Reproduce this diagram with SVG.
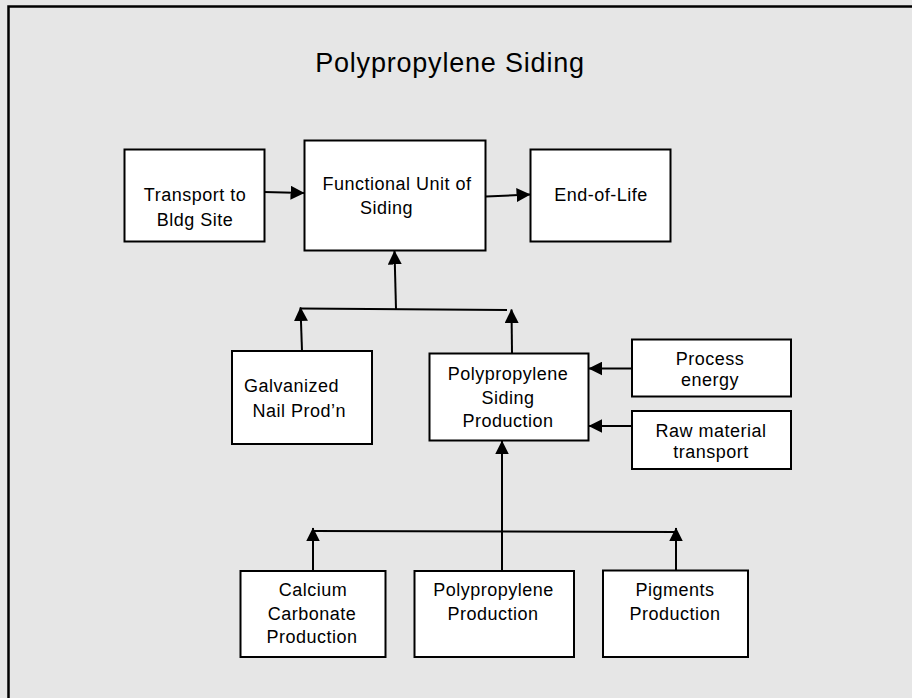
<svg xmlns="http://www.w3.org/2000/svg" width="912" height="698" viewBox="0 0 912 698">
<defs>
<style>
.box{fill:#ffffff;stroke:#000000;stroke-width:2}
.t{font-family:"Liberation Sans",Arial,sans-serif;font-size:18px;letter-spacing:0.5px;fill:#000000}
.m{text-anchor:middle}
.c{fill:none;stroke:#000000;stroke-width:2}
</style>
<marker id="ah" markerUnits="userSpaceOnUse" markerWidth="14" markerHeight="14" viewBox="0 0 13 13" refX="12.5" refY="6.5" orient="auto">
<path d="M0,0 L13,6.5 L0,13 z" fill="#000000"/>
</marker>
</defs>
<rect x="0" y="0" width="912" height="698" fill="#e6e6e6"/>
<rect x="8.5" y="6.5" width="920" height="720" fill="#e6e6e6" stroke="#000000" stroke-width="2.5"/>
<text x="450" y="72" class="t m" style="font-size:27px;letter-spacing:0.8px">Polypropylene Siding</text>

<g id="connectors">
<line class="c" x1="264" y1="192" x2="304" y2="193" marker-end="url(#ah)"/>
<line class="c" x1="486" y1="196.5" x2="530" y2="194.5" marker-end="url(#ah)"/>
<line class="c" x1="396" y1="309" x2="394.5" y2="251" marker-end="url(#ah)"/>
<line class="c" x1="300" y1="308.5" x2="507" y2="310"/>
<line class="c" x1="302" y1="351" x2="300.5" y2="307.5" marker-end="url(#ah)"/>
<line class="c" x1="512" y1="353" x2="511.5" y2="309.5" marker-end="url(#ah)"/>
<line class="c" x1="632" y1="368.5" x2="589" y2="368.5" marker-end="url(#ah)"/>
<line class="c" x1="632" y1="426" x2="589" y2="426" marker-end="url(#ah)"/>
<line class="c" x1="502" y1="571" x2="502" y2="441" marker-end="url(#ah)"/>
<line class="c" x1="313" y1="531" x2="676" y2="532"/>
<line class="c" x1="313" y1="571" x2="313" y2="528" marker-end="url(#ah)"/>
<line class="c" x1="676" y1="570" x2="676" y2="528" marker-end="url(#ah)"/>
</g>

<g id="transport">
<rect class="box" x="124.5" y="149.5" width="140" height="92"/>
<text class="t m" x="195" y="201">Transport to</text>
<text class="t m" x="195" y="225.5">Bldg Site</text>
</g>
<g id="functional-unit">
<rect class="box" x="304.5" y="140.5" width="181" height="110"/>
<text class="t" x="322.5" y="190">Functional Unit of</text>
<text class="t" x="360" y="213.5">Siding</text>
</g>
<g id="end-of-life">
<rect class="box" x="530.5" y="149.5" width="140" height="92"/>
<text class="t m" x="601" y="201">End-of-Life</text>
</g>
<g id="galvanized">
<rect class="box" x="232" y="351" width="140" height="93"/>
<text class="t" x="244" y="391.5">Galvanized</text>
<text class="t" x="252.5" y="416.5">Nail Prod’n</text>
</g>
<g id="pp-siding-production">
<rect class="box" x="429.5" y="353.5" width="159" height="87"/>
<text class="t m" x="508" y="380">Polypropylene</text>
<text class="t m" x="508" y="403.5">Siding</text>
<text class="t m" x="508" y="427">Production</text>
</g>
<g id="process-energy">
<rect class="box" x="632" y="339.5" width="159" height="57"/>
<text class="t m" x="710" y="365">Process</text>
<text class="t m" x="710" y="386">energy</text>
</g>
<g id="raw-material">
<rect class="box" x="632" y="411" width="159" height="58"/>
<text class="t m" x="711" y="436.5">Raw material</text>
<text class="t m" x="711" y="458">transport</text>
</g>
<g id="calcium">
<rect class="box" x="240.5" y="571" width="145" height="86"/>
<text class="t m" x="313" y="596">Calcium</text>
<text class="t m" x="312" y="620">Carbonate</text>
<text class="t m" x="312" y="643">Production</text>
</g>
<g id="pp-production">
<rect class="box" x="414.5" y="571" width="159.5" height="86"/>
<text class="t m" x="493.5" y="596">Polypropylene</text>
<text class="t m" x="493" y="620">Production</text>
</g>
<g id="pigments">
<rect class="box" x="603" y="570.5" width="145" height="86.5"/>
<text class="t m" x="675" y="596">Pigments</text>
<text class="t m" x="675" y="619.5">Production</text>
</g>
</svg>
